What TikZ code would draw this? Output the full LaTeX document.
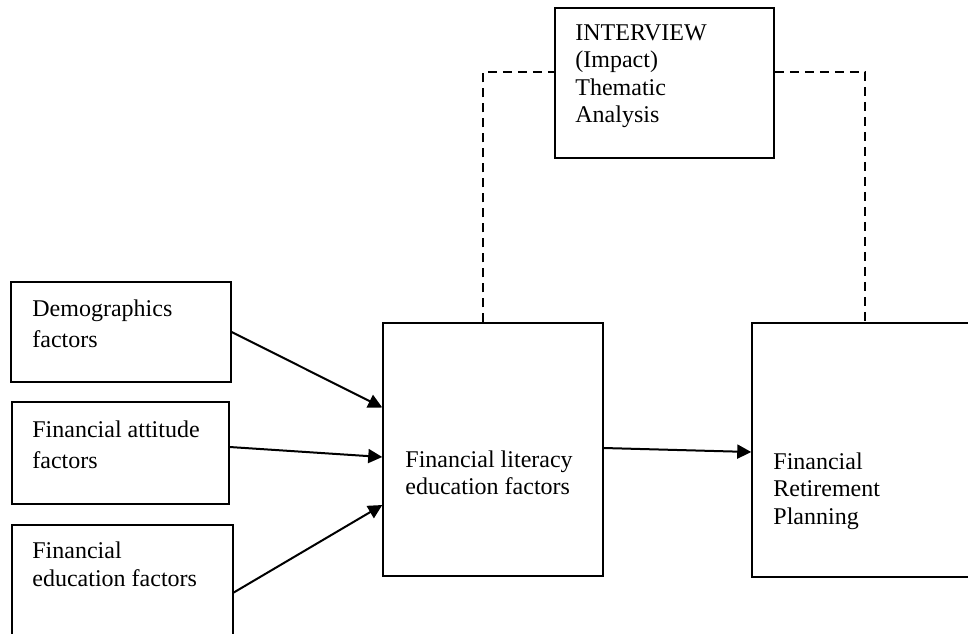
\documentclass[tikz,border=0pt]{standalone}
\usepackage{fontspec}
\setmainfont{Liberation Serif}
\usetikzlibrary{arrows.meta}

\begin{document}
\begin{tikzpicture}[x=0.5pt, y=-0.5pt, >={Triangle[length=7pt, width=7pt]},
  box/.style={draw, line width=0.75pt, inner sep=0pt},
  txt/.style={anchor=north west, align=left, inner sep=0pt, font=\fontsize{12}{13.75}\selectfont},
  link/.style={->, line width=1pt},
  dashlink/.style={line width=0.9pt, dash pattern=on 4.5pt off 3pt}]
  \clip[use as bounding box] (0,0) rectangle (968,633);
  % factors on the left
  \node[box, minimum width=110pt, minimum height=50pt] (demo) at (121,332) {};
  \node[txt, font=\fontsize{12}{15.5}\selectfont] (demotxt) at (32,299) {Demographics\\factors};
  \node[box, minimum width=108.5pt, minimum height=51pt] (att) at (120.5,453) {};
  \node[txt, font=\fontsize{12}{15.5}\selectfont] (atttxt) at (32,420) {Financial attitude\\factors};
  \node[box, minimum width=110.5pt, minimum height=67.5pt] (edu) at (122.5,592.5) {};
  \node[txt, font=\fontsize{12}{14}\selectfont] (edutxt) at (32,541) {Financial\\education factors};
  % middle and right
  \node[box, minimum width=110pt, minimum height=126.5pt] (mid) at (493,449.5) {};
  \node[txt] (midtxt) at (405,450) {Financial literacy\\education factors};
  \node[box, minimum width=113pt, minimum height=127pt] (ret) at (865,450) {};
  \node[txt] (rettxt) at (773,452) {Financial\\Retirement\\Planning};
  % interview
  \node[box, minimum width=109.5pt, minimum height=75pt] (int) at (664.5,83) {};
  \node[txt] (inttxt) at (575,24) {INTERVIEW\\(Impact)\\Thematic\\Analysis};
  % arrows
  \draw[link] (demo.east) -- ([yshift=21pt]mid.west);
  \draw[link] ([yshift=3pt]att.east) -- ([yshift=-3.75pt]mid.west);
  \draw[link] (edu.east) -- ([yshift=-27.75pt]mid.west);
  \draw[link] ([yshift=0.75pt]mid.east) -- ([yshift=-1pt]ret.west);
  % dashed links
  \draw[dashlink] ([xshift=-5pt]mid.north) |- ([yshift=5.5pt]int.west);
  \draw[dashlink] ([yshift=5.5pt]int.east) -| (ret.north);
\end{tikzpicture}
\end{document}
